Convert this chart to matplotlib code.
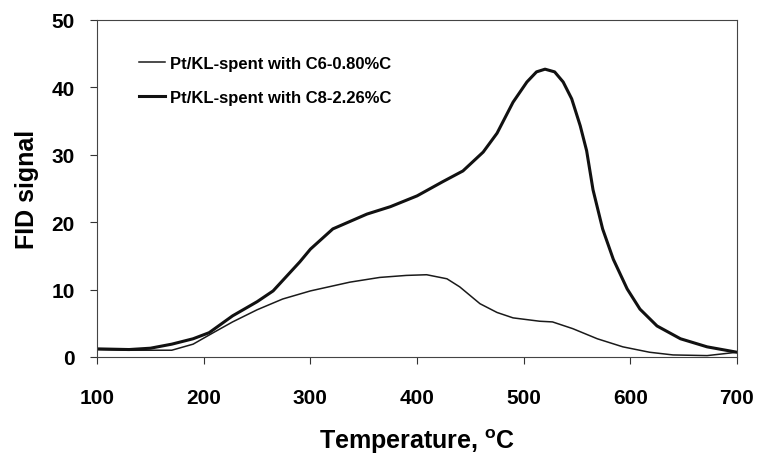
import matplotlib
matplotlib.use("Agg")
import matplotlib.pyplot as plt

plt.rcParams['font.family'] = ['Liberation Sans', 'DejaVu Sans']
plt.rcParams['mathtext.fontset'] = 'custom'
plt.rcParams['mathtext.rm'] = 'Liberation Sans:bold'
plt.rcParams['mathtext.bf'] = 'Liberation Sans:bold'

# Thin curve: Pt/KL-spent with C6-0.80%C
c6_temp = [100, 130, 150, 170, 190, 210, 227, 250, 274, 300, 337, 365, 390, 409,
           428, 440, 459, 475, 490, 515, 527, 546, 569, 593, 618, 640, 672, 700]
c6_fid = [1.1, 1.0, 1.0, 1.0, 1.9, 3.7, 5.2, 7.0, 8.6, 9.8, 11.1, 11.8, 12.1, 12.2,
          11.6, 10.4, 7.9, 6.6, 5.8, 5.3, 5.2, 4.2, 2.7, 1.5, 0.7, 0.3, 0.2, 0.7]

# Thick curve: Pt/KL-spent with C8-2.26%C
c8_temp = [100, 130, 150, 170, 190, 205, 227, 250, 265, 290, 300, 321, 353, 375,
           400, 424, 443, 462, 475, 490, 503, 512, 520, 529, 537, 545, 553, 559,
           565, 574, 584, 597, 609, 625, 647, 672, 700]
c8_fid = [1.2, 1.1, 1.3, 1.9, 2.7, 3.6, 6.1, 8.2, 9.8, 14.1, 16.0, 19.0, 21.2, 22.3,
          23.9, 26.0, 27.6, 30.4, 33.2, 37.8, 40.8, 42.3, 42.7, 42.3, 40.8, 38.3,
          34.3, 30.6, 24.8, 19.0, 14.5, 10.1, 7.1, 4.6, 2.7, 1.5, 0.7]

labels = ['Pt/KL-spent with C6-0.80%C', 'Pt/KL-spent with C8-2.26%C']
x_ticks = [100, 200, 300, 400, 500, 600, 700]
y_ticks = [0, 10, 20, 30, 40, 50]

fig = plt.figure(figsize=(7.59, 4.56), dpi=100)
ax = fig.add_axes([0.128, 0.215, 0.843, 0.739])

ax.plot(c6_temp, c6_fid, color='#1a1a1a', lw=1.1, label=labels[0])
ax.plot(c8_temp, c8_fid, color='#111111', lw=2.2, label=labels[1])

ax.set_xlim(100, 700)
ax.set_ylim(0, 50)
ax.set_xticks(x_ticks)
ax.set_yticks(y_ticks)
ax.tick_params(direction='out', length=5, width=0.8, colors='#333333',
               labelsize=15)
for lab in ax.get_xticklabels() + ax.get_yticklabels():
    lab.set_fontweight('bold')
    lab.set_color('black')
ax.tick_params(axis='x', pad=17)
ax.tick_params(axis='y', pad=11)
for sp in ax.spines.values():
    sp.set_linewidth(0.8)
    sp.set_color('#444444')

ax.set_xlabel('Temperature, $^{\\rm o}$C', fontsize=18, fontweight='bold', labelpad=14)
ax.set_ylabel('FID signal', fontsize=18, fontweight='bold', labelpad=9)

leg = ax.legend(loc='upper left', bbox_to_anchor=(0.055, 0.912), frameon=False,
                prop={'size': 12, 'weight': 'bold'}, handlelength=1.55,
                handletextpad=0.3, labelspacing=1.1, borderaxespad=0)

fig.savefig('out.png', dpi=100)
